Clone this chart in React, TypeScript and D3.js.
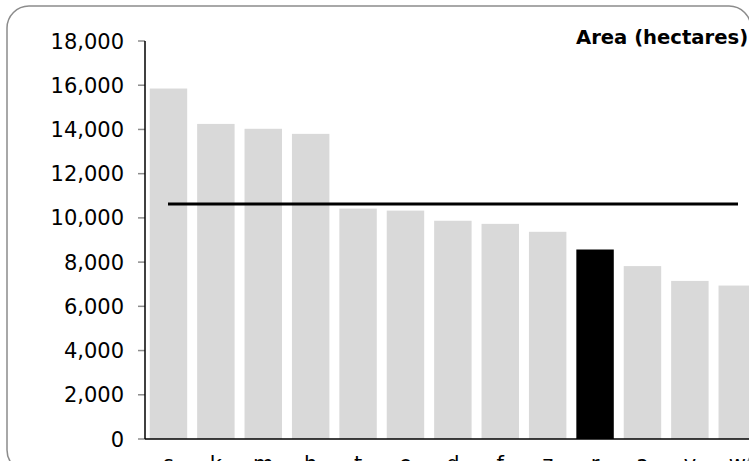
import React from "react";
import * as d3 from "d3";

const categories = ["s", "k", "m", "h", "t", "e", "d", "f", "z", "r", "a", "v", "w"];
const areaValues = [15850, 14250, 14030, 13800, 10420, 10330, 9870, 9730, 9370, 8570, 7820, 7150, 6940];
const highlighted = ["r"];
const averageValue = 10630;
const yTicks = [0, 2000, 4000, 6000, 8000, 10000, 12000, 14000, 16000, 18000];
const title = "Area (hectares)";

const W = 749;
const H = 461;

export default function App() {
  const x0 = 145;
  const y0 = 439;
  const yTop = 41;
  const pIn = 0.21;
  const pOut = 0.1;
  const step = 47.4;
  const x = d3
    .scaleBand<string>()
    .domain(categories)
    .range([x0, x0 + step * (categories.length - pIn + 2 * pOut)])
    .paddingInner(pIn)
    .paddingOuter(pOut);
  const y = d3.scaleLinear().domain([0, 18000]).range([y0, yTop]);
  const fmt = d3.format(",");
  const font = "'DejaVu Sans', Verdana, sans-serif";

  return (
    <svg
      width={W}
      height={H}
      style={{ position: "absolute", left: 0, top: 0, background: "#fff" }}
    >
      <rect x={7} y={6} width={744} height={466} rx={22} ry={22} fill="#fff" stroke="#8c8c8c" strokeWidth={1.5} />
      {categories.map((c, i) => (
        <rect
          key={c + i}
          x={x(c)}
          y={y(areaValues[i])}
          width={x.bandwidth()}
          height={y0 - y(areaValues[i])}
          fill={highlighted.includes(c) ? "#000" : "#d9d9d9"}
        />
      ))}
      <line
        x1={168}
        x2={738}
        y1={y(averageValue)}
        y2={y(averageValue)}
        stroke="#000"
        strokeWidth={3}
      />
      {yTicks.map((t) => (
        <g key={t}>
          <line x1={138} x2={x0} y1={y(t)} y2={y(t)} stroke="#8c8c8c" strokeWidth={1.5} />
          <text
            x={124}
            y={y(t)}
            dy="0.36em"
            textAnchor="end"
            fontFamily={font}
            fontSize={21}
            fill="#000"
          >
            {fmt(t)}
          </text>
        </g>
      ))}
      <line x1={x0} x2={x0} y1={yTop} y2={y0} stroke="#000" strokeWidth={1.5} />
      <line x1={x0} x2={W} y1={y0} y2={y0} stroke="#000" strokeWidth={1.5} />
      {categories.map((c, i) => (
        <text
          key={"l" + i}
          x={(x(c) as number) + x.bandwidth() / 2}
          y={471}
          textAnchor="middle"
          fontFamily={font}
          fontSize={21}
          fill="#000"
        >
          {c}
        </text>
      ))}
      <text x={576} y={44} fontFamily={font} fontSize={19.6} fontWeight="bold" fill="#000">
        {title}
      </text>
    </svg>
  );
}
